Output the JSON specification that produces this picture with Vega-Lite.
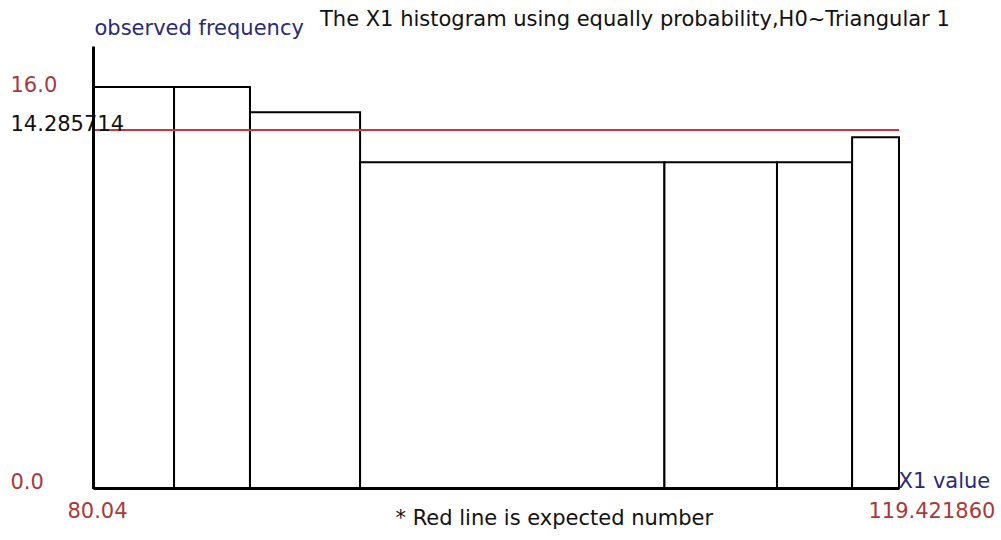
{
  "$schema": "https://vega.github.io/schema/vega-lite/v6.json",
  "width": 806,
  "height": 442,
  "autosize": {"type": "none"},
  "padding": {"left": 93, "top": 46, "right": 102, "bottom": 52},
  "background": "white",
  "config": {
    "view": {"stroke": null},
    "font": "DejaVu Sans"
  },
  "title": {
    "text": "The X1 histogram using equally probability,H0~Triangular 1",
    "anchor": "start",
    "frame": "group",
    "dx": 227,
    "dy": 30,
    "offset": 0,
    "baseline": "alphabetic",
    "font": "DejaVu Sans",
    "fontSize": 21,
    "fontWeight": "normal",
    "color": "#111111"
  },
  "datasets": {
    "bins": [
      {"lo": 80.04, "hi": 84.0, "count": 16},
      {"lo": 84.0, "hi": 87.71, "count": 16},
      {"lo": 87.71, "hi": 93.09, "count": 15},
      {"lo": 93.09, "hi": 107.96, "count": 13},
      {"lo": 107.96, "hi": 113.46, "count": 13},
      {"lo": 113.46, "hi": 117.13, "count": 13},
      {"lo": 117.13, "hi": 119.42186, "count": 14}
    ],
    "expected": [
      {"expected": 14.285714}
    ]
  },
  "resolve": {"axis": {"y": "independent"}},
  "layer": [
    {
      "data": {"name": "bins"},
      "mark": {"type": "rect", "fill": "white", "stroke": "black", "strokeWidth": 2},
      "encoding": {
        "x": {
          "field": "lo",
          "type": "quantitative",
          "scale": {"domain": [80.04, 119.42186], "nice": false, "zero": false},
          "axis": {
            "zindex": 1,
            "values": [80.04, 119.42186],
            "labelExpr": "datum.value < 100 ? '80.04' : '119.421860'",
            "labelAlign": {"condition": {"test": "datum.value < 100", "value": "center"}, "value": "left"},
            "labelOffset": {"condition": {"test": "datum.value < 100", "value": 4}, "value": -31},
            "labelBaseline": "alphabetic",
            "labelPadding": 29,
            "labelOverlap": false,
            "labelFlush": false,
            "labelBound": false,
            "labelFont": "DejaVu Sans",
            "labelFontSize": 21,
            "labelColor": "#a83a3a",
            "ticks": false,
            "tickSize": 0,
            "grid": false,
            "domainColor": "black",
            "domainWidth": 3,
            "title": "X1 value",
            "titleX": 805,
            "titleY": -1,
            "titleAlign": "left",
            "titleBaseline": "alphabetic",
            "titleFont": "DejaVu Sans",
            "titleFontSize": 21,
            "titleFontWeight": "normal",
            "titleColor": "#2a2a7c"
          }
        },
        "x2": {"field": "hi"},
        "y": {
          "field": "count",
          "type": "quantitative",
          "scale": {"domain": [0, 17.64], "nice": false, "zero": true},
          "axis": {
            "orient": "left",
            "zindex": 1,
            "values": [0, 14.285714, 16],
            "labelExpr": "datum.value == 0 ? '0.0' : (datum.value == 16 ? '16.0' : '14.285714')",
            "labelAlign": "left",
            "labelBaseline": "alphabetic",
            "labelPadding": 83,
            "labelOffset": {"condition": {"test": "datum.value == 16", "value": 4}, "value": 0},
            "labelOverlap": false,
            "labelFlush": false,
            "labelBound": false,
            "labelFont": "DejaVu Sans",
            "labelFontSize": 21,
            "labelColor": {"condition": {"test": "datum.value == 14.285714", "value": "#111111"}, "value": "#a83a3a"},
            "ticks": false,
            "tickSize": 0,
            "grid": false,
            "domainColor": "black",
            "domainWidth": 3,
            "title": "observed frequency",
            "titleAngle": 0,
            "titleX": 1,
            "titleY": -12,
            "titleAlign": "left",
            "titleBaseline": "alphabetic",
            "titleFont": "DejaVu Sans",
            "titleFontSize": 21,
            "titleFontWeight": "normal",
            "titleColor": "#2a2a7c"
          }
        },
        "y2": {"datum": 0}
      }
    },
    {
      "data": {"name": "expected"},
      "mark": {"type": "rule", "color": "#bf3a44", "strokeWidth": 2},
      "encoding": {
        "y": {
          "field": "expected",
          "type": "quantitative",
          "scale": {"domain": [0, 17.64], "nice": false, "zero": true},
          "axis": {
            "orient": "right",
            "domain": false,
            "labels": false,
            "ticks": false,
            "grid": false,
            "title": "* Red line is expected number",
            "titleAngle": 0,
            "titleX": -504,
            "titleY": 478,
            "titleAlign": "left",
            "titleBaseline": "alphabetic",
            "titleFont": "DejaVu Sans",
            "titleFontSize": 21,
            "titleFontWeight": "normal",
            "titleColor": "#111111"
          }
        }
      }
    }
  ]
}
